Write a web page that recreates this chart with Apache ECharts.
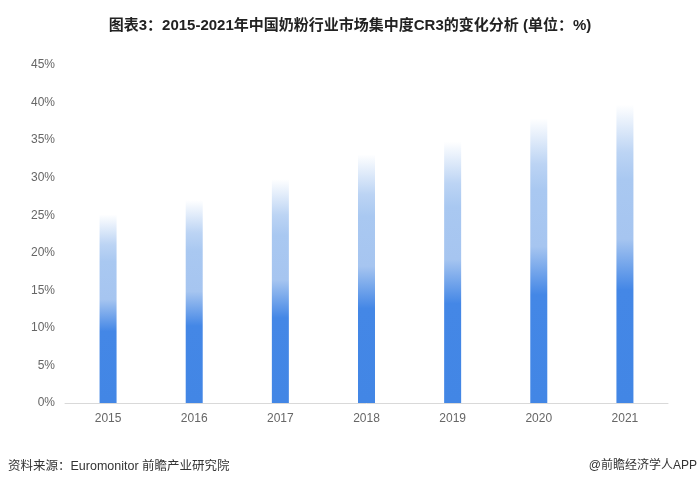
<!DOCTYPE html>
<html>
<head>
<meta charset="utf-8">
<script src="https://cdn.jsdelivr.net/npm/echarts@6/dist/echarts.min.js"></script>
<style>
html,body{margin:0;padding:0;background:#fff;}
#main{width:700px;height:488px;}
</style>
</head>
<body>
<div id="main"></div>
<script>
var years = ['2015','2016','2017','2018','2019','2020','2021'];
var cr3 = [25.1, 27.0, 29.8, 33.1, 34.8, 37.9, 39.7];
var yTicks = [0, 5, 10, 15, 20, 25, 30, 35, 40, 45];

var chart = echarts.init(document.getElementById('main'));
var fontFam = '"Liberation Sans", Arial, "Noto Sans CJK SC", sans-serif';
chart.setOption({
  backgroundColor: '#fff',
  animation: false,
  title: {
    text: '图表3：2015-2021年中国奶粉行业市场集中度CR3的变化分析 (单位：%)',
    left: 'center',
    top: 13,
    textStyle: {fontSize: 15, fontWeight: 'bold', color: '#222', fontFamily: fontFam}
  },
  graphic: [
    {type: 'text', left: 8, top: 460, style: {text: '资料来源：Euromonitor 前瞻产业研究院', fontSize: 12.5, fill: '#333', fontFamily: fontFam}},
    {type: 'text', right: 3, top: 460, style: {text: '@前瞻经济学人APP', fontSize: 12, fill: '#333', fontFamily: fontFam}}
  ],
  grid: {left: 65, right: 32, top: 65, bottom: 85},
  xAxis: {
    type: 'category',
    data: years,
    axisLine: {lineStyle: {color: '#d9d9d9'}},
    axisTick: {show: false},
    axisLabel: {color: '#666', fontSize: 12, margin: 10, fontFamily: fontFam}
  },
  yAxis: {
    type: 'value',
    min: yTicks[0],
    max: yTicks[yTicks.length - 1],
    interval: 5,
    axisLine: {show: false},
    axisTick: {show: false},
    splitLine: {show: false},
    axisLabel: {color: '#666', fontSize: 12, margin: 10, formatter: '{value}%', fontFamily: fontFam}
  },
  series: [{
    type: 'bar',
    data: cr3,
    barWidth: 17,
    itemStyle: {
      color: new echarts.graphic.LinearGradient(0, 0, 0, 1, [
        {offset: 0, color: 'rgba(255,255,255,1)'},
        {offset: 0.16, color: '#bcd4f4'},
        {offset: 0.25, color: '#a9c8f1'},
        {offset: 0.45, color: '#a6c5f0'},
        {offset: 0.62, color: '#4487e6'},
        {offset: 1, color: '#4286e5'}
      ])
    }
  }]
});
</script>
</body>
</html>
